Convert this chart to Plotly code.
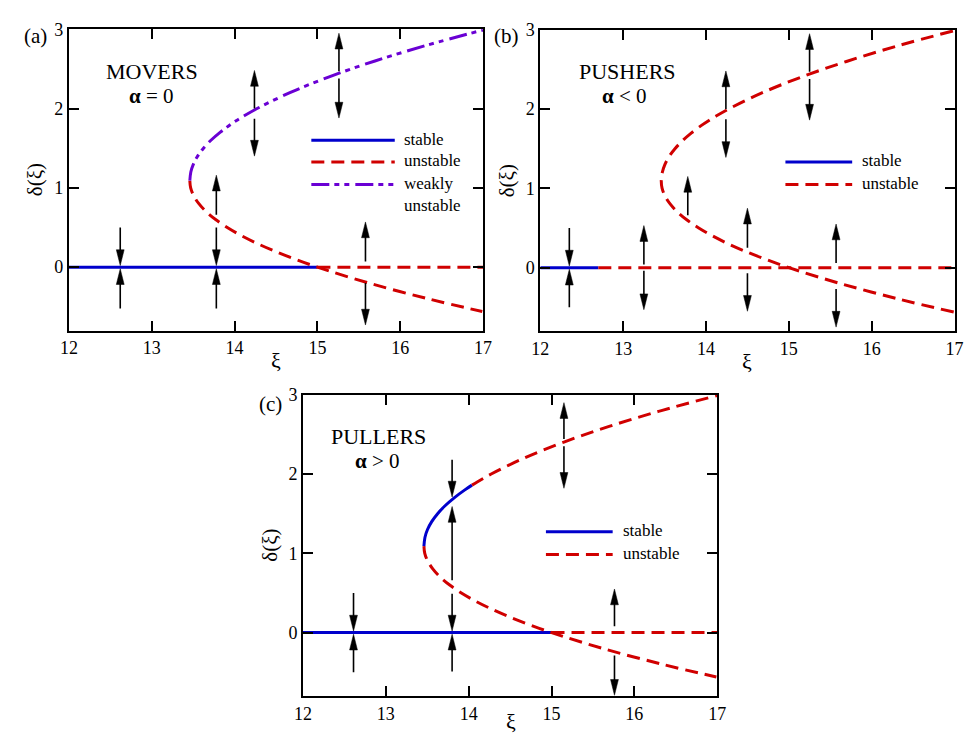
import plotly.graph_objects as go

# ---------------------------------------------------------------------------
# Non-trivial fixed-point branch delta(xi), as (delta, xi) pairs
# ---------------------------------------------------------------------------
upper_delta = [1.09, 1.2, 1.3, 1.4, 1.5, 1.6, 1.7, 1.8, 1.86, 1.9, 2.0, 2.2, 2.4, 2.6, 2.8, 2.99]
upper_xi = [13.46, 13.472, 13.503, 13.554, 13.625, 13.715, 13.825, 13.954, 14.04, 14.103,
            14.272, 14.668, 15.142, 15.695, 16.326, 17.0]
lower_delta = [1.09, 1.0, 0.9, 0.8, 0.7, 0.6, 0.5, 0.4, 0.3, 0.2, 0.1, 0.0, -0.2, -0.4, -0.56]
lower_xi = [13.46, 13.47, 13.507, 13.569, 13.657, 13.771, 13.912, 14.078, 14.27, 14.487,
            14.732, 15.0, 15.619, 16.34, 16.99]

# Trivial branch delta = 0: stable up to the switch point, unstable beyond
xi_range = [12, 17]
trivial_switch_movers = 15.0
trivial_switch_pushers = 12.7
trivial_switch_pullers = 15.0
# Pullers: upper branch is stable from the turning point up to this delta
pullers_stable_top = 1.86

# Flow arrows: xi position, tail delta, head delta
arrows_movers_xi = [12.62, 12.62, 13.78, 13.78, 13.78, 14.24, 14.24, 15.26, 15.26, 15.58, 15.58]
arrows_movers_from = [0.50, -0.52, 0.50, -0.52, 0.66, 2.00, 1.87, 2.47, 2.38, 0.07, -0.20]
arrows_movers_to = [0.02, -0.02, 0.02, -0.02, 1.16, 2.48, 1.40, 2.95, 1.88, 0.57, -0.73]

arrows_pushers_xi = [12.35, 12.35, 13.25, 13.25, 13.78, 14.24, 14.24, 14.50, 14.50, 15.25, 15.25, 15.57, 15.57]
arrows_pushers_from = [0.50, -0.50, 0.04, -0.04, 0.66, 2.00, 1.87, 0.25, -0.07, 2.47, 2.38, 0.06, -0.27]
arrows_pushers_to = [0.02, -0.02, 0.53, -0.53, 1.15, 2.48, 1.39, 0.75, -0.55, 2.95, 1.86, 0.55, -0.75]

arrows_pullers_xi = [12.61, 12.61, 13.80, 13.80, 13.80, 13.80, 15.15, 15.15, 15.76, 15.76]
arrows_pullers_from = [0.50, -0.50, 2.18, 0.66, 0.49, -0.49, 2.44, 2.35, 0.08, -0.29]
arrows_pullers_to = [0.02, -0.02, 1.71, 1.59, 0.02, -0.02, 2.90, 1.82, 0.55, -0.79]

# ---------------------------------------------------------------------------
# Styling
# ---------------------------------------------------------------------------
SERIF = "Liberation Serif, Times New Roman, serif"
BLUE = "#0000cc"
RED = "#d00000"
PURPLE = "#6a00d4"
LW = 3
DASH = "13px,7px"
DASHDOT = "18px,5px,5px,5px,5px,6px"

W, H = 977, 737
PANEL_W, PANEL_H = 422, 305.5
Y_RANGE = [-0.8, 3]
PX_X = PANEL_W / (xi_range[1] - xi_range[0])
PX_Y = PANEL_H / (Y_RANGE[1] - Y_RANGE[0])
HEAD_LEN = 16   # px
HEAD_WID = 8    # px

# panel top-left corners (px)
panels = {
    "": (61, 19.5),
    "2": (541.3, 20),
    "3": (299.5, 390),
}

fig = go.Figure()


def line(xs, ys, color, dash, axis, width=LW, shape="linear"):
    fig.add_trace(go.Scatter(
        x=xs, y=ys, mode="lines",
        line=dict(color=color, width=width, dash=dash, shape=shape, smoothing=1.0),
        xaxis="x" + axis, yaxis="y" + axis, hoverinfo="skip", showlegend=False))


def arrows(xis, tails, heads, axis):
    sx, sy, hx, hy = [], [], [], []
    L = HEAD_LEN / PX_Y
    hw = HEAD_WID / 2 / PX_X
    for xi, t, h in zip(xis, tails, heads):
        s = 1 if h > t else -1
        sx += [xi, xi, None]
        sy += [t, h - s * L * 0.5, None]
        hx += [xi - hw, xi, xi + hw, xi - hw, None]
        hy += [h - s * L, h, h - s * L, h - s * L, None]
    fig.add_trace(go.Scatter(x=sx, y=sy, mode="lines", line=dict(color="black", width=1.6),
                             xaxis="x" + axis, yaxis="y" + axis, hoverinfo="skip", showlegend=False))
    fig.add_trace(go.Scatter(x=hx, y=hy, mode="lines", fill="toself", fillcolor="black",
                             line=dict(color="black", width=0.5),
                             xaxis="x" + axis, yaxis="y" + axis, hoverinfo="skip", showlegend=False))


# --- (a) movers ---
line([xi_range[0], trivial_switch_movers], [0, 0], BLUE, "solid", "")
line([trivial_switch_movers, xi_range[1]], [0, 0], RED, DASH, "")
line(lower_xi, lower_delta, RED, DASH, "", shape="spline")
line(upper_xi, upper_delta, PURPLE, DASHDOT, "", shape="spline")
arrows(arrows_movers_xi, arrows_movers_from, arrows_movers_to, "")

# --- (b) pushers ---
line([xi_range[0], trivial_switch_pushers], [0, 0], BLUE, "solid", "2")
line([trivial_switch_pushers, xi_range[1]], [0, 0], RED, DASH, "2")
line(lower_xi[::-1] + upper_xi[1:], lower_delta[::-1] + upper_delta[1:], RED, DASH, "2", shape="spline")
arrows(arrows_pushers_xi, arrows_pushers_from, arrows_pushers_to, "2")

# --- (c) pullers ---
line([xi_range[0], trivial_switch_pullers], [0, 0], BLUE, "solid", "3")
line([trivial_switch_pullers, xi_range[1]], [0, 0], RED, DASH, "3")
line(lower_xi, lower_delta, RED, DASH, "3", shape="spline")
stab = [i for i, d in enumerate(upper_delta) if d <= pullers_stable_top]
unst = [i for i, d in enumerate(upper_delta) if d >= pullers_stable_top]
line([upper_xi[i] for i in stab], [upper_delta[i] for i in stab], BLUE, "solid", "3", shape="spline")
line([upper_xi[i] for i in unst], [upper_delta[i] for i in unst], RED, DASH, "3", shape="spline")
arrows(arrows_pullers_xi, arrows_pullers_from, arrows_pullers_to, "3")

# ---------------------------------------------------------------------------
# Axes
# ---------------------------------------------------------------------------
tickfont = dict(family=SERIF, size=18, color="black")
layout_axes = {}
for suffix, (left, top) in panels.items():
    xd = [left / W, (left + PANEL_W) / W]
    yd = [1 - (top + PANEL_H) / H, 1 - top / H]
    common = dict(ticks="inside", ticklen=10, tickwidth=1.8, tickcolor="black",
                  showline=True, linewidth=2, linecolor="black", mirror="ticks",
                  showgrid=False, zeroline=False, tickfont=tickfont, fixedrange=True)
    layout_axes["xaxis" + suffix] = dict(domain=xd, range=xi_range, tick0=12, dtick=1,
                                         anchor="y" + suffix, **common)
    layout_axes["yaxis" + suffix] = dict(domain=yd, range=Y_RANGE, tickvals=[0, 1, 2, 3],
                                         anchor="x" + suffix, **common)

# ---------------------------------------------------------------------------
# Text and manual legends (pixel positions)
# ---------------------------------------------------------------------------
annotations = []
shapes = []


def text(x, y, s, size=17, xanchor="center", angle=0):
    annotations.append(dict(x=x / W, y=1 - y / H, xref="paper", yref="paper", text=s,
                            showarrow=False, xanchor=xanchor, yanchor="middle", textangle=angle,
                            font=dict(family=SERIF, size=size, color="black")))


def legend_line(x0, x1, y, color, dash):
    shapes.append(dict(type="line", xref="paper", yref="paper",
                       x0=x0 / W, x1=x1 / W, y0=1 - y / H, y1=1 - y / H,
                       line=dict(color=color, width=LW, dash=dash)))


# panel labels
text(27, 26, "(a)", 21)
text(507, 26, "(b)", 21)
text(266, 399, "(c)", 21)

# regime labels
text(145.5, 62.5, "MOVERS", 22)
text(145, 87, "<b>α</b> = 0", 21)
text(630, 62.5, "PUSHERS", 22)
text(627, 87, "<b>α</b> &lt; 0", 21)
text(376.5, 432, "PULLERS", 22)
text(375, 457, "<b>α</b> &gt; 0", 21)

# axis titles
for (cx, cy) in [(272, 355), (752, 356), (511, 721)]:
    text(cx, cy, "ξ", 22)
for (cx, cy) in [(26, 172), (507, 173), (266, 543)]:
    text(cx, cy, "δ(ξ)", 21, angle=-90)

# legend (a)
legend_line(308, 393, 132, BLUE, "solid")
legend_line(308, 393, 154, RED, DASH)
legend_line(308, 393, 177, PURPLE, DASHDOT)
text(400, 131, "stable", 17, "left")
text(400, 153, "unstable", 17, "left")
text(400, 176, "weakly", 17, "left")
text(400, 198, "unstable", 17, "left")

# legend (b)
legend_line(791, 859, 154, BLUE, "solid")
legend_line(791, 859, 177, RED, DASH)
text(867, 153, "stable", 17, "left")
text(867, 176, "unstable", 17, "left")

# legend (c)
legend_line(547, 615, 529, BLUE, "solid")
legend_line(547, 615, 552, RED, DASH)
text(623, 528, "stable", 17, "left")
text(623, 551, "unstable", 17, "left")

fig.update_layout(
    width=W, height=H,
    margin=dict(l=0, r=0, t=0, b=0),
    paper_bgcolor="white", plot_bgcolor="white",
    showlegend=False,
    annotations=annotations, shapes=shapes,
    **layout_axes,
)

fig.write_html("out.html")
